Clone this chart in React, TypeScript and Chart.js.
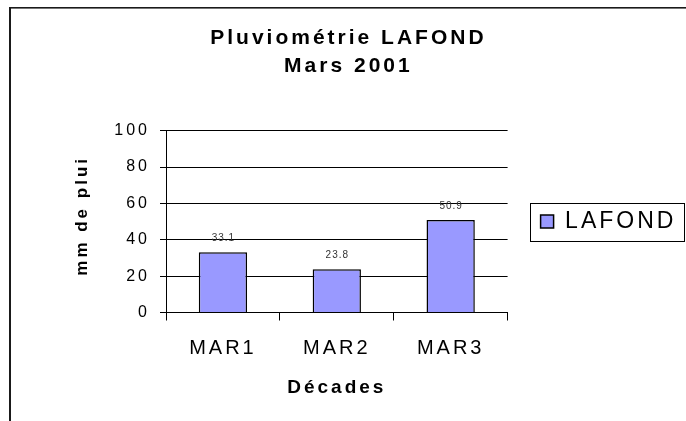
import React, { useEffect, useRef } from 'react';
import { Chart, registerables } from 'chart.js';

Chart.register(...registerables);

const categories = ['MAR1', 'MAR2', 'MAR3'];
const rainfall = [33.1, 23.8, 50.9];
const seriesName = 'LAFOND';
const titleLines = ['Pluviométrie LAFOND', 'Mars 2001'];
const yTicks = [0, 20, 40, 60, 80, 100];
const xTitle = 'Décades';
const yTitle = '\u2002mm de plui';

const FONT = "'Liberation Sans', Arial, Helvetica, sans-serif";
const SPACING = '3px';

const spacingPlugin = {
  id: 'spacing',
  beforeLayout(chart: any) {
    chart.ctx.letterSpacing = SPACING;
  },
  afterLayout(chart: any) {
    // centre the title on the whole framed chart (Excel style)
    if (chart.titleBlock) chart.titleBlock.left += 20;
  },
  beforeDraw(chart: any) {
    chart.ctx.letterSpacing = SPACING;
  },
};

const framePlugin = {
  id: 'frame',
  afterDraw(chart: any) {
    const ctx = chart.ctx;
    ctx.save();
    ctx.fillStyle = '#1a1a1a';
    ctx.fillRect(9, 7, 2, 500);
    ctx.fillRect(9, 7, 700, 1.6);
    const lg = chart.legend;
    if (lg && lg.legendHitBoxes && lg.legendHitBoxes[0]) {
      const hb = lg.legendHitBoxes[0];
      const cy = hb.top + hb.height / 2;
      ctx.strokeStyle = '#000';
      ctx.lineWidth = 1;
      const x0 = Math.round(hb.left - 11) + 0.5;
      const x1 = Math.round(lg.right + 7) + 0.5;
      const y0 = Math.round(cy - 19) + 0.5;
      const y1 = Math.round(cy + 19) + 0.5;
      ctx.strokeRect(x0, y0, x1 - x0, y1 - y0);
    }
    ctx.restore();
  },
};

const dataLabelPlugin = {
  id: 'dataLabels',
  afterDatasetsDraw(chart: any) {
    const ctx = chart.ctx;
    ctx.save();
    ctx.letterSpacing = '1px';
    ctx.font = `10px ${FONT}`;
    ctx.fillStyle = '#333';
    ctx.textAlign = 'center';
    ctx.textBaseline = 'middle';
    chart.data.datasets.forEach((ds: any, di: number) => {
      const meta = chart.getDatasetMeta(di);
      meta.data.forEach((bar: any, i: number) => {
        ctx.fillText(String(ds.data[i]), bar.x + 0.5, bar.y - 14);
      });
    });
    ctx.restore();
  },
};

export default function App() {
  const ref = useRef<HTMLCanvasElement | null>(null);

  useEffect(() => {
    if (!ref.current) return;
    Chart.defaults.color = '#000';
    const chart = new Chart(ref.current, {
      type: 'bar',
      data: {
        labels: categories,
        datasets: [
          {
            label: seriesName,
            data: rainfall,
            backgroundColor: '#9999FF',
            borderColor: '#000',
            borderWidth: 1.5,
            categoryPercentage: 1,
            barPercentage: 0.424,
          },
        ],
      },
      options: {
        responsive: false,
        animation: false,
        devicePixelRatio: 1,
        layout: { padding: { left: 0, right: 9.2, top: 0, bottom: 0 } },
        plugins: {
          tooltip: { enabled: false },
          title: {
            display: true,
            text: titleLines,
            color: '#000',
            font: { family: FONT, size: 21, weight: 'bold', lineHeight: 28 / 21 },
            padding: { top: 24, bottom: 50.7 },
          },
          legend: {
            display: true,
            position: 'right',
            fullSize: false,
            labels: {
              boxWidth: 13,
              boxHeight: 13,
              color: '#000',
              font: { family: FONT, size: 23 },
              padding: 33,
            },
          },
        },
        scales: {
          x: {
            afterFit(scale: any) {
              scale.height = 108.5;
            },
            grid: {
              display: true,
              drawOnChartArea: false,
              drawTicks: true,
              tickLength: 8,
              color: '#000',
              lineWidth: 1,
            },
            border: { display: true, color: '#000', width: 1 },
            ticks: {
              color: '#000',
              font: { family: FONT, size: 20 },
              padding: 15.5,
            },
            title: {
              display: true,
              text: xTitle,
              color: '#000',
              font: { family: FONT, size: 19, weight: 'bold' },
              padding: { top: 0, bottom: 22 },
            },
          },
          y: {
            min: yTicks[0],
            max: yTicks[yTicks.length - 1],
            afterFit(scale: any) {
              scale.width = 166;
            },
            afterBuildTicks(scale: any) {
              scale.ticks = yTicks.map((v) => ({ value: v }));
            },
            grid: {
              display: true,
              drawOnChartArea: true,
              drawTicks: true,
              tickLength: 6,
              color: '#000',
              lineWidth: 1,
            },
            border: { display: true, color: '#000', width: 1 },
            ticks: {
              color: '#000',
              font: { family: FONT, size: 16 },
              padding: 10,
            },
            title: {
              display: true,
              text: yTitle,
              color: '#000',
              font: { family: FONT, size: 17, weight: 'bold' },
              padding: { top: 72.4, bottom: 0 },
            },
          },
        },
      },
      plugins: [spacingPlugin, dataLabelPlugin, framePlugin],
    } as any);
    return () => chart.destroy();
  }, []);

  return (
    <div style={{ position: 'fixed', left: 0, top: 0, width: 686, height: 421, background: '#fff' }}>
      <canvas ref={ref} width={686} height={421} style={{ display: 'block', width: 686, height: 421 }} />
    </div>
  );
}
